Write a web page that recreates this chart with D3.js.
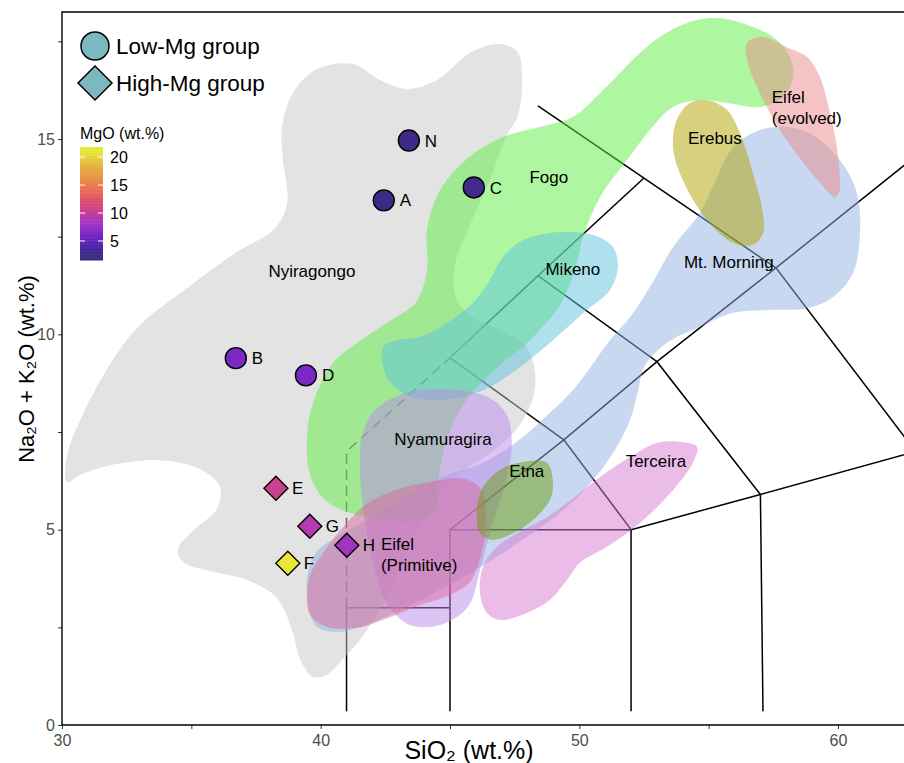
<!DOCTYPE html>
<html>
<head>
<meta charset="utf-8">
<script src="https://cdn.jsdelivr.net/npm/d3@7/dist/d3.min.js"></script>
<style>
  body { margin: 0; background: #fff; }
  svg { display: block; font-family: "Liberation Sans", Arial, sans-serif; }
</style>
</head>
<body>
<div class="chart"></div>
<script>
// samples
var sampleIds = ['N', 'A', 'C', 'B', 'D', 'E', 'G', 'H', 'F'];
var sio2 = [43.41, 42.44, 45.92, 36.72, 39.43, 38.27, 39.58, 41.01, 38.73];
var alkali = [14.96, 13.43, 13.76, 9.39, 8.95, 6.06, 5.09, 4.60, 4.14];
var mgo = [2.5, 2.5, 2.8, 6.3, 6.3, 10.6, 9.2, 8.2, 21];
var groups = ['Low', 'Low', 'Low', 'Low', 'Low', 'High', 'High', 'High', 'High'];

// volcano fields, [SiO2, Na2O+K2O]
var nyiragongo = [[30.19,6.22],[30.19,6.88],[30.70,7.80],[31.58,8.93],[32.90,10.16],[34.83,11.18],[36.76,12.11],
  [38.16,12.67],[38.70,13.33],[38.54,14.49],[38.50,15.28],[38.93,16.18],[39.86,16.79],[41.25,16.92],[42.29,16.51],
  [43.34,16.28],[44.50,16.51],[45.77,17.20],[46.81,17.43],[47.59,17.25],[47.78,16.64],[47.63,15.61],[47.20,15.10],
  [46.54,13.95],[45.77,12.80],[45.19,11.77],[45.19,11.01],[45.77,10.49],[46.93,10.11],[47.90,9.73],[48.28,9.09],
  [48.21,8.37],[47.70,7.68],[46.81,7.09],[45.58,6.53],[44.42,5.76],[43.45,4.61],[42.49,3.20],[41.52,2.18],
  [40.86,1.69],[40.24,1.28],[39.70,1.23],[39.20,1.69],[38.93,2.35],[38.31,3.25],[37.15,3.71],[35.72,3.94],
  [34.68,4.17],[34.48,4.50],[35.06,4.97],[35.99,5.53],[36.11,6.09],[35.33,6.55],[33.79,6.78],[31.86,6.65],[30.70,6.40]];
var fogo = [[39.47,7.35],[39.70,8.24],[40.48,9.27],[41.52,9.83],[42.79,10.39],[43.72,10.85],[44.11,11.65],[44.11,12.67],
  [44.61,13.69],[45.65,14.49],[47.05,15.05],[48.48,15.31],[49.75,15.56],[50.80,16.18],[51.57,16.69],[52.34,17.20],
  [53.11,17.61],[54.16,17.97],[55.32,18.10],[56.71,17.87],[57.64,17.53],[58.14,17.10],[58.26,16.59],[57.87,16.07],
  [56.98,15.82],[55.71,15.92],[54.66,16.00],[53.62,15.82],[52.73,15.23],[51.84,14.46],[50.80,13.51],[50.14,12.49],
  [49.83,11.65],[49.25,10.75],[48.09,9.85],[46.93,9.21],[45.77,8.45],[45.00,7.55],[44.61,6.53],[44.34,5.37],
  [43.45,5.20],[42.29,5.25],[41.13,5.43],[40.17,5.76],[39.59,6.40]];
var mikeno = [[42.41,9.67],[42.56,8.91],[43.18,8.50],[44.22,8.32],[45.50,8.40],[46.54,8.65],[47.70,9.16],[48.98,9.85],
  [50.29,10.62],[51.18,11.13],[51.49,11.72],[51.30,12.23],[50.53,12.54],[49.25,12.62],[47.82,12.41],[47.05,11.98],
  [46.54,11.39],[45.89,10.80],[44.88,10.29],[43.84,9.93],[42.95,9.85]];
var mtMorning = [[39.47,3.46],[39.55,4.02],[39.90,4.48],[40.75,4.86],[42.29,5.43],[44.61,6.32],[46.27,6.71],[47.82,7.37],
  [48.86,7.99],[49.75,8.57],[50.41,9.14],[51.18,9.85],[51.96,10.44],[52.73,11.21],[53.62,12.23],[54.66,13.10],
  [55.16,13.77],[55.94,14.79],[56.79,15.18],[57.64,15.31],[58.91,15.15],[60.07,14.46],[60.73,13.62],[60.85,12.59],
  [60.58,11.57],[59.80,10.95],[58.80,10.67],[57.25,10.62],[55.94,10.55],[54.66,10.19],[53.42,9.80],[52.54,9.21],
  [52.27,8.57],[51.96,7.81],[51.30,6.96],[50.53,6.27],[49.52,5.58],[47.97,4.81],[46.16,4.04],[44.61,3.46],
  [43.07,2.94],[41.52,2.51],[40.55,2.38],[39.78,2.56]];
var nyamuragira = [[41.52,6.53],[41.71,5.25],[42.10,3.97],[42.60,3.07],[43.45,2.56],[44.61,2.56],[45.69,3.02],[46.16,3.97],
  [46.62,5.12],[47.12,6.14],[47.39,7.17],[47.20,7.93],[46.54,8.37],[45.38,8.57],[44.22,8.60],[43.07,8.45],
  [42.10,8.06],[41.60,7.42]];
var eifelPrimitive = [[39.47,3.28],[39.59,3.84],[40.17,4.48],[40.94,5.12],[41.71,5.63],[42.87,6.01],[44.22,6.22],[45.58,6.30],
  [46.23,6.01],[46.39,5.25],[46.20,4.35],[45.77,3.66],[45.00,3.33],[43.84,3.07],[42.68,2.76],[41.33,2.48],
  [40.17,2.53],[39.59,2.82]];
var etna = [[46.04,5.50],[46.27,6.09],[46.93,6.53],[47.82,6.73],[48.75,6.71],[48.98,6.19],[48.86,5.76],[48.21,5.25],
  [47.43,4.91],[46.66,4.74],[46.16,4.91]];
var terceira = [[54.55,7.12],[54.00,7.24],[53.00,7.22],[51.96,6.86],[50.80,6.35],[49.52,5.68],[48.75,5.32],[47.59,4.91],
  [46.81,4.56],[46.27,4.04],[46.16,3.38],[46.43,2.87],[46.93,2.69],[47.97,2.87],[48.86,3.20],[49.52,3.71],
  [50.02,4.15],[51.07,4.56],[52.34,5.17],[53.62,6.01],[54.39,6.71]];
var erebus = [[54.93,16.00],[55.71,15.74],[56.21,15.15],[56.71,14.13],[57.10,13.10],[57.10,12.59],[56.71,12.29],[55.94,12.34],
  [54.93,12.93],[54.00,13.95],[53.62,14.79],[53.77,15.49],[54.27,15.92]];
var eifelEvolved = [[56.48,17.46],[57.10,17.61],[58.02,17.35],[58.80,17.10],[59.30,16.59],[59.69,15.66],[59.96,14.79],
  [60.07,14.03],[60.07,13.69],[59.88,13.51],[59.57,13.69],[58.80,14.28],[57.75,15.23],[56.98,16.18],[56.52,16.94]];

var fieldNames = ['Nyiragongo', 'Fogo', 'Mikeno', 'Mt. Morning', 'Nyamuragira', 'Eifel (Primitive)', 'Etna', 'Terceira', 'Erebus', 'Eifel (evolved)'];
var fieldShapes = [nyiragongo, fogo, mikeno, mtMorning, nyamuragira, eifelPrimitive, etna, terceira, erebus, eifelEvolved];
var fieldColors = ['#c7c7c7', '#5def41', '#5dc1dd', '#91b1e1', '#b98aea', '#d96a9c', '#6a9e10', '#d979d1', '#ada100', '#e98989'];

// field labels
var labelLines = [['Nyiragongo'], ['Fogo'], ['Mikeno'], ['Mt. Morning'], ['Nyamuragira'], ['Eifel', '(Primitive)'], ['Etna'], ['Terceira'], ['Erebus'], ['Eifel', '(evolved)']];
var labelX = [39.66, 48.82, 49.75, 55.78, 44.73, 42.33, 47.97, 52.96, 55.24, 57.44];
var labelY = [11.47, 13.87, 11.52, 11.70, 7.17, 4.48, 6.35, 6.60, 14.87, 15.92];

// TAS classification boundaries
var tasSolid = [
  [[41, 0.35], [41, 3]],
  [[41, 3], [45, 3]],
  [[45, 0.35], [45, 5], [52, 5], [52, 0.35]],
  [[45, 5], [49.4, 7.3], [52, 5]],
  [[52, 5], [57, 5.9], [63, 7]],
  [[57.1, 0.35], [57, 5.9]],
  [[45, 9.4], [49.4, 7.3]],
  [[49.4, 7.3], [53, 9.3], [57, 5.9]],
  [[45, 9.4], [48.4, 11.5], [53, 9.3]],
  [[48.4, 11.5], [52.5, 14]],
  [[53, 9.3], [57.6, 11.7], [63, 14.56]],
  [[48.4, 15.85], [52.5, 14], [57.6, 11.7], [63, 7]]
];
var tasDashed = [[[41, 3], [41, 7], [45, 9.4]]];

var xTicks = [30, 35, 40, 45, 50, 55, 60];
var yTicks = [0, 2.5, 5, 7.5, 10, 12.5, 15, 17.5];
var mgoTicks = [5, 10, 15, 20];

var width = 904, height = 763;
var svg = d3.select('.chart').append('svg')
  .attr('width', width)
  .attr('height', height);

var x = d3.scaleLinear().domain([30, 60]).range([62, 838]);
var y = d3.scaleLinear().domain([0, 15]).range([725, 139]);

var mgoColor = d3.scaleLinear()
  .domain([2.2, 3.7, 5.5, 7.3, 8.9, 10.4, 12, 13.8, 15.6, 17.4, 19.2, 21])
  .range(['#3a2a80', '#4a2aa0', '#6a22c0', '#9030c8', '#b038b8', '#c84090', '#d85070', '#e86858', '#e88848', '#e8a040', '#e8c040', '#e8e83a'])
  .clamp(true);

svg.append('clipPath').attr('id', 'panel')
  .append('rect').attr('x', 62).attr('y', 12).attr('width', 900).attr('height', 713);

var plot = svg.append('g').attr('clip-path', 'url(#panel)');

var line = d3.line().x(function(d) { return x(d[0]); }).y(function(d) { return y(d[1]); });

plot.selectAll('path.tas')
  .data(tasSolid)
  .enter().append('path')
  .attr('class', 'tas')
  .attr('d', line)
  .attr('fill', 'none')
  .attr('stroke', '#000')
  .attr('stroke-width', 1.5);

plot.selectAll('path.tas-dash')
  .data(tasDashed)
  .enter().append('path')
  .attr('class', 'tas-dash')
  .attr('d', line)
  .attr('fill', 'none')
  .attr('stroke', '#000')
  .attr('stroke-width', 1.5)
  .attr('stroke-dasharray', '10,6');

var blob = d3.line()
  .x(function(d) { return x(d[0]); })
  .y(function(d) { return y(d[1]); })
  .curve(d3.curveCatmullRomClosed.alpha(0.5));

plot.selectAll('path.field')
  .data(fieldShapes)
  .enter().append('path')
  .attr('class', 'field')
  .attr('d', blob)
  .attr('fill', function(d, i) { return fieldColors[i]; })
  .attr('fill-opacity', 0.5)
  .attr('stroke', 'none');

var labels = plot.selectAll('text.field-label')
  .data(labelLines)
  .enter().append('text')
  .attr('class', 'field-label')
  .attr('font-size', '17px')
  .attr('fill', '#000')
  .attr('text-anchor', function(d) { return d.length > 1 ? 'start' : 'middle'; })
  .attr('x', function(d, i) { return x(labelX[i]); })
  .attr('y', function(d, i) { return y(labelY[i]); })
  .attr('dy', '0.35em');

labels.selectAll('tspan')
  .data(function(d, i) { return d.map(function(t) { return {t: t, i: i}; }); })
  .enter().append('tspan')
  .attr('x', function(d) { return x(labelX[d.i]); })
  .attr('dy', function(d, j) { return j === 0 ? 0 : '1.22em'; })
  .text(function(d) { return d.t; });

// samples
var pts = sampleIds.map(function(id, i) {
  return {id: id, x: sio2[i], y: alkali[i], mgo: mgo[i], group: groups[i]};
});

var circleSym = d3.symbol().type(d3.symbolCircle).size(Math.PI * 10.5 * 10.5);
var diamondSym = function(s) {
  return 'M0,' + (-s) + 'L' + s + ',0L0,' + s + 'L' + (-s) + ',0Z';
};

var elem = plot.selectAll('g.sample')
  .data(pts)
  .enter().append('g')
  .attr('class', 'sample')
  .attr('transform', function(d) { return 'translate(' + x(d.x) + ',' + y(d.y) + ')'; });

elem.append('path')
  .attr('d', function(d) { return d.group === 'Low' ? circleSym() : diamondSym(12); })
  .attr('fill', function(d) { return mgoColor(d.mgo); })
  .attr('stroke', '#000')
  .attr('stroke-width', 1.4);

elem.append('text')
  .attr('x', 16)
  .attr('dy', '0.36em')
  .attr('font-size', '17px')
  .text(function(d) { return d.id; });

// axes
var xAxis = svg.append('g')
  .attr('transform', 'translate(0,725)')
  .call(d3.axisBottom(x).tickValues(xTicks).tickSize(4).tickFormat(function(d) { return d % 10 === 0 ? d : ''; }));
var yAxis = svg.append('g')
  .attr('transform', 'translate(62,0)')
  .call(d3.axisLeft(y).tickValues(yTicks).tickSize(4).tickFormat(function(d) { return d % 5 === 0 ? d : ''; }));

[xAxis, yAxis].forEach(function(ax) {
  ax.select('.domain').remove();
  ax.selectAll('line').attr('stroke', '#333');
  ax.selectAll('text').attr('fill', '#4d4d4d').attr('font-size', '16px').attr('font-family', '"Liberation Sans", Arial, sans-serif');
});
xAxis.selectAll('text').attr('dy', '0.9em');

// panel border
svg.append('path')
  .attr('d', 'M62,725V12H960')
  .attr('fill', 'none').attr('stroke', '#000').attr('stroke-width', 1.4);
svg.append('line')
  .attr('x1', 62).attr('x2', 904).attr('y1', 725).attr('y2', 725)
  .attr('stroke', '#000').attr('stroke-width', 1.4);

svg.append('text')
  .attr('x', 469).attr('y', 759)
  .attr('text-anchor', 'middle')
  .attr('font-size', '25px')
  .text('SiO\u2082 (wt.%)');

svg.append('text')
  .attr('transform', 'translate(34,369) rotate(-90)')
  .attr('text-anchor', 'middle')
  .attr('font-size', '22px')
  .text('Na\u2082O + K\u2082O (wt.%)');

// shape legend
var legShape = svg.append('g');
legShape.append('circle')
  .attr('cx', 95).attr('cy', 46).attr('r', 14)
  .attr('fill', '#7bb8bf').attr('stroke', '#000').attr('stroke-width', 1.5);
legShape.append('path')
  .attr('transform', 'translate(95,83)')
  .attr('d', diamondSym(17))
  .attr('fill', '#7bb8bf').attr('stroke', '#000').attr('stroke-width', 1.5);
legShape.append('text').attr('x', 116).attr('y', 46).attr('dy', '0.36em')
  .attr('font-size', '22.5px').text('Low-Mg group');
legShape.append('text').attr('x', 116).attr('y', 83).attr('dy', '0.36em')
  .attr('font-size', '22.5px').text('High-Mg group');

// colour bar
var cb = d3.scaleLinear().domain([1.6, 21.8]).range([260, 147]);
var nbin = 40;
var step = (21.8 - 1.6) / nbin;
var bins = d3.range(nbin).map(function(i) { return 1.6 + (i + 0.5) * step; });
var legColor = svg.append('g');
legColor.append('text').attr('x', 80).attr('y', 139)
  .attr('font-size', '16px').text('MgO (wt.%)');
legColor.selectAll('rect')
  .data(bins)
  .enter().append('rect')
  .attr('x', 80).attr('width', 23)
  .attr('y', function(d) { return cb(d + step / 2); })
  .attr('height', function(d) { return cb(d - step / 2) - cb(d + step / 2) + 0.5; })
  .attr('fill', function(d) { return mgoColor(d); });
legColor.selectAll('line.tl')
  .data(mgoTicks)
  .enter().append('line')
  .attr('class', 'tl')
  .attr('x1', 80).attr('x2', 85)
  .attr('y1', function(d) { return cb(d); }).attr('y2', function(d) { return cb(d); })
  .attr('stroke', '#fff').attr('stroke-width', 1);
legColor.selectAll('line.tr')
  .data(mgoTicks)
  .enter().append('line')
  .attr('class', 'tr')
  .attr('x1', 98).attr('x2', 103)
  .attr('y1', function(d) { return cb(d); }).attr('y2', function(d) { return cb(d); })
  .attr('stroke', '#fff').attr('stroke-width', 1);
legColor.selectAll('text.cbl')
  .data(mgoTicks)
  .enter().append('text')
  .attr('class', 'cbl')
  .attr('x', 110)
  .attr('y', function(d) { return cb(d); })
  .attr('dy', '0.36em')
  .attr('font-size', '16px')
  .text(function(d) { return d; });
</script>
</body>
</html>
